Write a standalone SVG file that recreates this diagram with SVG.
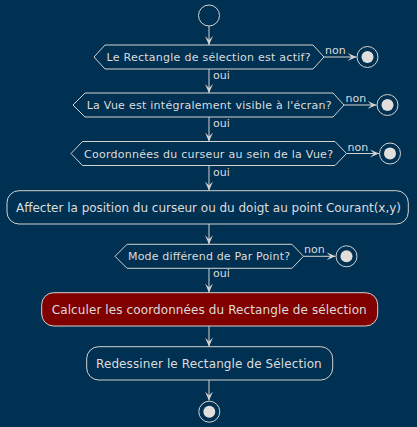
<svg xmlns="http://www.w3.org/2000/svg" width="417" height="427" viewBox="0 0 417 427">
<defs>
<style>
.bg{fill:#013152}
.shape{fill:#013152;stroke:#d4d2cf;stroke-width:1}
.red{fill:#800000;stroke:#d4d2cf;stroke-width:1}
.line{stroke:#d4d2cf;stroke-width:1;fill:none}
.t{font-family:"DejaVu Sans",sans-serif;fill:#dcdcdc}
.d{font-size:11px}
.a{font-size:12px}
.l{font-size:11px}
.dot{fill:#e2dedb;stroke:none}
</style>
<marker id="ah" viewBox="0 0 10 10" refX="9" refY="5" markerWidth="10" markerHeight="10" markerUnits="userSpaceOnUse" orient="auto">
<polygon points="0,1 9,5 0,9 4,5" fill="#d4d2cf"/>
</marker>
</defs>
<rect class="bg" x="0" y="0" width="417" height="427"/>

<g id="connectors">
<line class="line" x1="209" y1="26" x2="209" y2="45" marker-end="url(#ah)"/>
<line class="line" x1="209" y1="69" x2="209" y2="93" marker-end="url(#ah)"/>
<line class="line" x1="209" y1="117" x2="209" y2="141.5" marker-end="url(#ah)"/>
<line class="line" x1="209" y1="165.5" x2="209" y2="190.5" marker-end="url(#ah)"/>
<line class="line" x1="209" y1="224" x2="209" y2="244.3" marker-end="url(#ah)"/>
<line class="line" x1="209" y1="268.3" x2="209" y2="292.5" marker-end="url(#ah)"/>
<line class="line" x1="209" y1="326" x2="209" y2="346.5" marker-end="url(#ah)"/>
<line class="line" x1="209" y1="380" x2="209" y2="400.5" marker-end="url(#ah)"/>
<line class="line" x1="324" y1="57" x2="356.5" y2="57" marker-end="url(#ah)"/>
<line class="line" x1="344" y1="105" x2="376.5" y2="105" marker-end="url(#ah)"/>
<line class="line" x1="346.5" y1="153.5" x2="379" y2="153.5" marker-end="url(#ah)"/>
<line class="line" x1="303.5" y1="256.3" x2="335.5" y2="256.3" marker-end="url(#ah)"/>
<text class="t l" x="213" y="79">oui</text>
<text class="t l" x="213" y="127.3">oui</text>
<text class="t l" x="213" y="175.7">oui</text>
<text class="t l" x="213" y="277.3">oui</text>
<text class="t l" x="325" y="54">non</text>
<text class="t l" x="345.5" y="102">non</text>
<text class="t l" x="347.5" y="150.7">non</text>
<text class="t l" x="304" y="253.3">non</text>
</g>

<g id="start">
<circle class="shape" cx="209" cy="15.5" r="10.5"/>
</g>

<g id="decision1">
<polygon class="shape" points="94,57 105,45 313,45 324,57 313,69 105,69"/>
<text class="t d" x="106.5" y="61" textLength="204" lengthAdjust="spacing">Le Rectangle de sélection est actif?</text>
</g>
<g id="end1">
<circle class="shape" cx="367.5" cy="57" r="10.5"/>
<circle class="dot" cx="367.5" cy="57" r="6"/>
</g>

<g id="decision2">
<polygon class="shape" points="73,105 85,93 333,93 344,105 333,117 85,117"/>
<text class="t d" x="86.7" y="109" textLength="245" lengthAdjust="spacing">La Vue est intégralement visible à l'écran?</text>
</g>
<g id="end2">
<circle class="shape" cx="387.5" cy="105" r="10.5"/>
<circle class="dot" cx="387.5" cy="105" r="6"/>
</g>

<g id="decision3">
<polygon class="shape" points="71,153.5 82.5,141.5 335,141.5 346.5,153.5 335,165.5 82.5,165.5"/>
<text class="t d" x="84" y="157.5" textLength="249" lengthAdjust="spacing">Coordonnées du curseur au sein de la Vue?</text>
</g>
<g id="end3">
<circle class="shape" cx="390" cy="153.5" r="10.5"/>
<circle class="dot" cx="390" cy="153.5" r="6"/>
</g>

<g id="action1">
<rect class="shape" x="7" y="190.7" width="401.3" height="33.3" rx="12" ry="12"/>
<text class="t a" x="16" y="212" textLength="385" lengthAdjust="spacing">Affecter la position du curseur ou du doigt au point Courant(x,y)</text>
</g>

<g id="decision4">
<polygon class="shape" points="115,256.3 127,244.3 292,244.3 303.5,256.3 292,268.3 127,268.3"/>
<text class="t d" x="128" y="260.3" textLength="162" lengthAdjust="spacing">Mode différend de Par Point?</text>
</g>
<g id="end4">
<circle class="shape" cx="346.5" cy="256.3" r="10.5"/>
<circle class="dot" cx="346.5" cy="256.3" r="6"/>
</g>

<g id="action2">
<rect class="red" x="41.7" y="292.7" width="336" height="33.3" rx="12" ry="12"/>
<text class="t a" x="51.7" y="314" textLength="315" lengthAdjust="spacing">Calculer les coordonnées du Rectangle de sélection</text>
</g>

<g id="action3">
<rect class="shape" x="86.7" y="346.7" width="246" height="33.3" rx="12" ry="12"/>
<text class="t a" x="96" y="368" textLength="225.7" lengthAdjust="spacing">Redessiner le Rectangle de Sélection</text>
</g>

<g id="end">
<circle class="shape" cx="209.3" cy="411.7" r="10.5"/>
<circle class="dot" cx="209.3" cy="411.7" r="6"/>
</g>
</svg>
